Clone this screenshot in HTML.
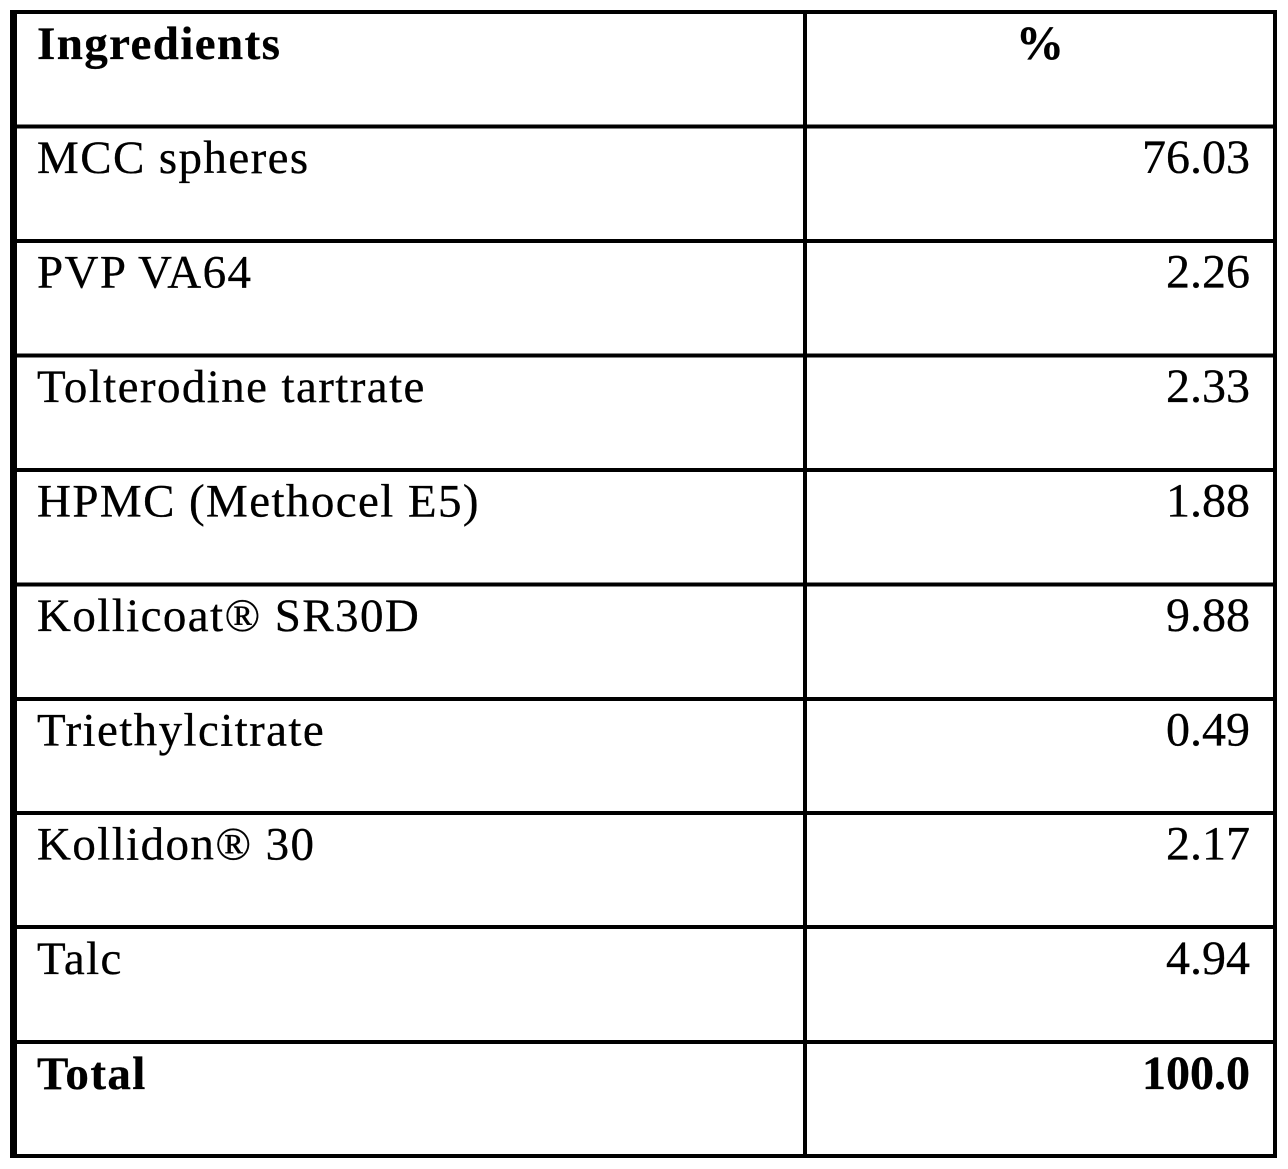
<!DOCTYPE html>
<html>
<head>
<meta charset="utf-8">
<style>
  html,body{margin:0;padding:0;background:#fff;}
  svg{display:block;}
  text{font-family:"Liberation Serif","Times New Roman",serif;font-size:47px;fill:#000;stroke:#000;stroke-width:0.3px;}
  .b{font-weight:bold;}
  .l{letter-spacing:1.4px;}
  .r{font-size:48px;}
</style>
</head>
<body>
<svg width="1288" height="1169" viewBox="0 0 1288 1169" xmlns="http://www.w3.org/2000/svg">
  <rect x="0" y="0" width="1288" height="1169" fill="#fff"/>
  <!-- outer borders -->
  <rect x="10" y="10" width="7" height="1148" fill="#000"/>
  <rect x="1273" y="10" width="4" height="1148" fill="#000"/>
  <rect x="10" y="10" width="1267" height="4" fill="#000"/>
  <rect x="10" y="1154" width="1267" height="4" fill="#000"/>
  <!-- middle vertical -->
  <rect x="803" y="10" width="4" height="1148" fill="#000"/>
  <!-- row lines -->
  <rect x="10" y="124.5" width="1267" height="4" fill="#000"/>
  <rect x="10" y="239" width="1267" height="4" fill="#000"/>
  <rect x="10" y="353.5" width="1267" height="4" fill="#000"/>
  <rect x="10" y="468" width="1267" height="4" fill="#000"/>
  <rect x="10" y="582.5" width="1267" height="4" fill="#000"/>
  <rect x="10" y="697" width="1267" height="4" fill="#000"/>
  <rect x="10" y="811" width="1267" height="4" fill="#000"/>
  <rect x="10" y="925" width="1267" height="4" fill="#000"/>
  <rect x="10" y="1040" width="1267" height="4" fill="#000"/>

  <!-- header -->
  <text class="b l" x="37" y="59">Ingredients</text>
  <text class="b r" x="1040" y="59" text-anchor="middle">%</text>

  <!-- rows -->
  <text class="l" x="37" y="173">MCC spheres</text>
  <text class="r" x="1250" y="173" text-anchor="end">76.03</text>

  <text class="l" x="37" y="287.5">PVP VA64</text>
  <text class="r" x="1250" y="287.5" text-anchor="end">2.26</text>

  <text class="l" x="37" y="402">Tolterodine tartrate</text>
  <text class="r" x="1250" y="402" text-anchor="end">2.33</text>

  <text class="l" x="37" y="516.5">HPMC (Methocel E5)</text>
  <text class="r" x="1250" y="516.5" text-anchor="end">1.88</text>

  <text class="l" x="37" y="631">Kollicoat® SR30D</text>
  <text class="r" x="1250" y="631" text-anchor="end">9.88</text>

  <text class="l" x="37" y="745.5">Triethylcitrate</text>
  <text class="r" x="1250" y="745.5" text-anchor="end">0.49</text>

  <text class="l" x="37" y="859.5">Kollidon® 30</text>
  <text class="r" x="1250" y="859.5" text-anchor="end">2.17</text>

  <text class="l" x="37" y="974">Talc</text>
  <text class="r" x="1250" y="974" text-anchor="end">4.94</text>

  <text class="b l" x="37" y="1089">Total</text>
  <text class="b r" x="1250" y="1089" text-anchor="end">100.0</text>
</svg>
</body>
</html>
